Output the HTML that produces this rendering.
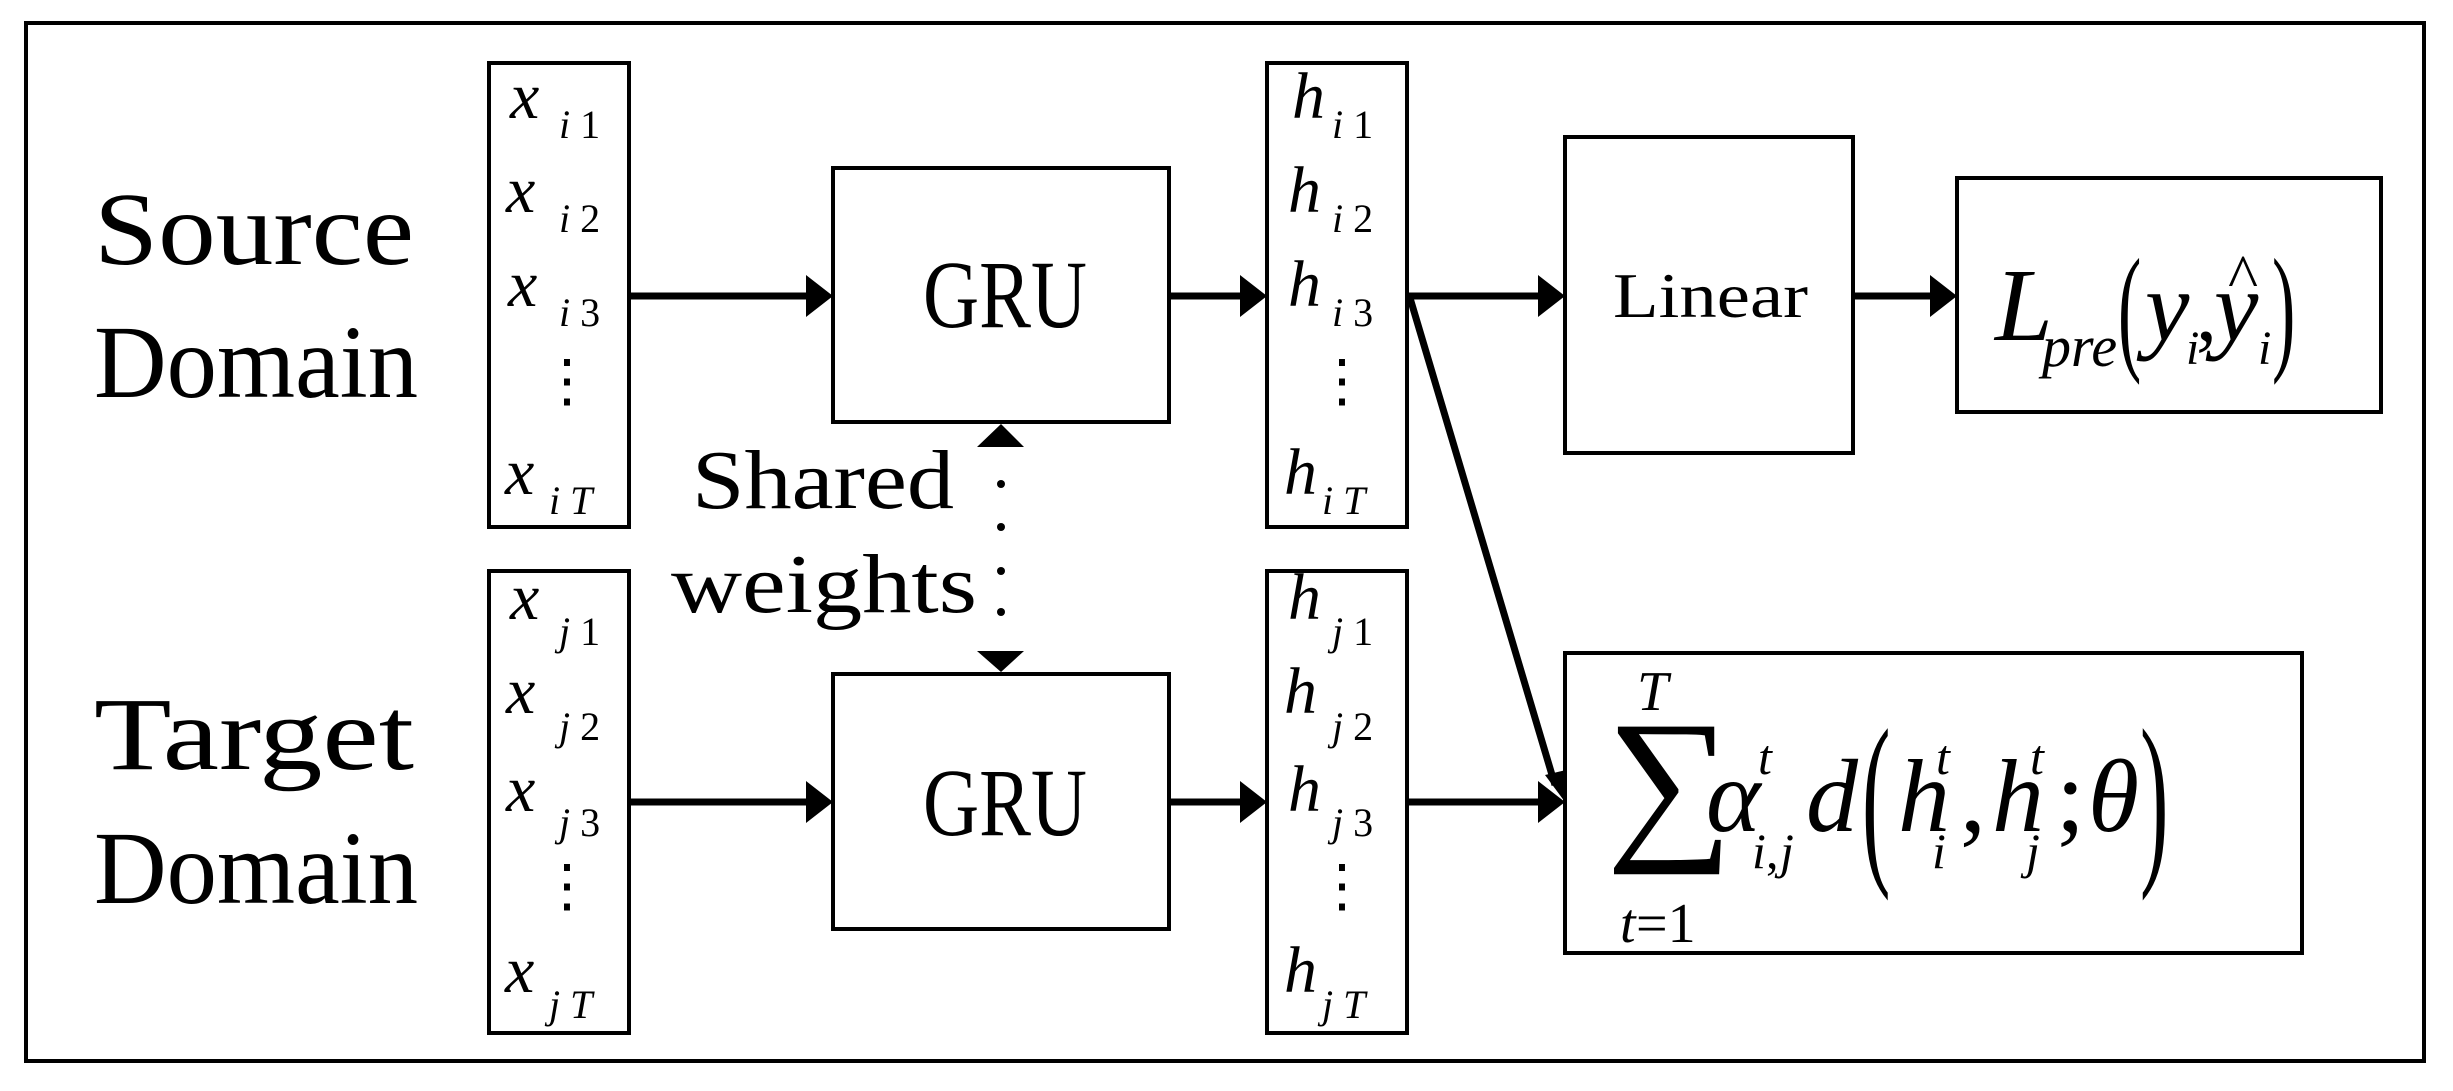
<!DOCTYPE html>
<html><head><meta charset="utf-8"><style>
html,body{margin:0;padding:0;background:#fff;}
svg{display:block;}
.m{font-family:"Liberation Serif",serif;}
.s{font-family:"Liberation Serif",serif;}
.i{font-family:"Liberation Serif",serif;font-style:italic;}
</style></head><body>
<svg width="2453" height="1091" viewBox="0 0 2453 1091" xmlns="http://www.w3.org/2000/svg">
<rect x="0" y="0" width="2453" height="1091" fill="#fff"/>
<g fill="none" stroke="#000" stroke-width="4">
<rect x="26" y="23" width="2398" height="1038"/>
<rect x="489" y="63" width="140" height="464"/>
<rect x="489" y="571" width="140" height="462"/>
<rect x="833" y="168" width="336" height="254"/>
<rect x="833" y="674" width="336" height="255"/>
<rect x="1267" y="63" width="140" height="464"/>
<rect x="1267" y="571" width="140" height="462"/>
<rect x="1565" y="137" width="288" height="316"/>
<rect x="1957" y="178" width="424" height="234"/>
<rect x="1565" y="653" width="737" height="300"/>
</g>
<g stroke="#000" stroke-width="7">
<line x1="629" y1="296" x2="810" y2="296"/>
<line x1="629" y1="802" x2="810" y2="802"/>
<line x1="1169" y1="296" x2="1245" y2="296"/>
<line x1="1169" y1="802" x2="1245" y2="802"/>
<line x1="1407" y1="296" x2="1543" y2="296"/>
<line x1="1853" y1="296" x2="1935" y2="296"/>
<line x1="1407" y1="802" x2="1543" y2="802"/>
<line x1="1410" y1="298" x2="1555" y2="785"/>
</g>
<g fill="#000">
<polygon points="806,275 833,296 806,317"/>
<polygon points="806,781 833,802 806,823"/>
<polygon points="1240,275 1267,296 1240,317"/>
<polygon points="1240,781 1267,802 1240,823"/>
<polygon points="1538,275 1565,296 1538,317"/>
<polygon points="1930,275 1957,296 1930,317"/>
<polygon points="1538,781 1565,802 1538,823"/>
<polygon points="1545,775 1565,802 1566,770"/>
<polygon points="977,447 1024,447 1001,424"/>
<polygon points="977,651 1024,651 1001,672"/>
<circle cx="1001" cy="484" r="4"/>
<circle cx="1001" cy="527" r="4"/>
<circle cx="1001" cy="571" r="4"/>
<circle cx="1001" cy="612" r="4"/>
</g>
<g class="m" font-size="104" fill="#000">
<text x="94" y="264" textLength="320" lengthAdjust="spacingAndGlyphs">Source</text>
<text x="94" y="397" textLength="324" lengthAdjust="spacingAndGlyphs">Domain</text>
<text x="94" y="769" textLength="320" lengthAdjust="spacingAndGlyphs">Target</text>
<text x="94" y="903" textLength="324" lengthAdjust="spacingAndGlyphs">Domain</text>
</g>
<g class="m" font-size="84" fill="#000">
<text x="692" y="508" textLength="262" lengthAdjust="spacingAndGlyphs">Shared</text>
<text x="671" y="612" textLength="306" lengthAdjust="spacingAndGlyphs">weights</text>
</g>
<g class="m" font-size="64" fill="#000">
<text x="1613" y="317" textLength="195" lengthAdjust="spacingAndGlyphs">Linear</text>
</g>
<g class="s" font-size="96" fill="#000">
<text x="923" y="327" textLength="164" lengthAdjust="spacingAndGlyphs">GRU</text>
<text x="923" y="835" textLength="164" lengthAdjust="spacingAndGlyphs">GRU</text>
</g>
<g font-size="66" fill="#000">
<text class="i" x="510" y="118">x</text><text class="s" x="559" y="138" font-size="40"><tspan class="i">i</tspan> 1</text>
<text class="i" x="506" y="212">x</text><text class="s" x="559" y="232" font-size="40"><tspan class="i">i</tspan> 2</text>
<text class="i" x="508" y="306">x</text><text class="s" x="559" y="326" font-size="40"><tspan class="i">i</tspan> 3</text>
<text class="s" x="538" y="400" font-size="58">⋮</text>
<text class="i" x="505" y="494">x</text><text class="i" x="549" y="514" font-size="40">i T</text>
<text class="i" x="510" y="619">x</text><text class="s" x="559" y="645" font-size="40"><tspan class="i">j</tspan> 1</text>
<text class="i" x="506" y="713">x</text><text class="s" x="559" y="740" font-size="40"><tspan class="i">j</tspan> 2</text>
<text class="i" x="506" y="811">x</text><text class="s" x="559" y="836" font-size="40"><tspan class="i">j</tspan> 3</text>
<text class="s" x="538" y="905" font-size="58">⋮</text>
<text class="i" x="505" y="992">x</text><text class="i" x="549" y="1018" font-size="40">j T</text>

<text class="i" x="1292" y="118">h</text><text class="s" x="1332" y="138" font-size="40"><tspan class="i">i</tspan> 1</text>
<text class="i" x="1288" y="212">h</text><text class="s" x="1332" y="232" font-size="40"><tspan class="i">i</tspan> 2</text>
<text class="i" x="1288" y="306">h</text><text class="s" x="1332" y="326" font-size="40"><tspan class="i">i</tspan> 3</text>
<text class="s" x="1313" y="400" font-size="58">⋮</text>
<text class="i" x="1284" y="494">h</text><text class="i" x="1322" y="514" font-size="40">i T</text>
<text class="i" x="1288" y="619">h</text><text class="s" x="1332" y="645" font-size="40"><tspan class="i">j</tspan> 1</text>
<text class="i" x="1284" y="713">h</text><text class="s" x="1332" y="740" font-size="40"><tspan class="i">j</tspan> 2</text>
<text class="i" x="1288" y="811">h</text><text class="s" x="1332" y="836" font-size="40"><tspan class="i">j</tspan> 3</text>
<text class="s" x="1313" y="905" font-size="58">⋮</text>
<text class="i" x="1284" y="992">h</text><text class="i" x="1322" y="1018" font-size="40">j T</text>
</g>
<!-- L_pre formula -->
<g fill="#000">
<text class="i" x="1995" y="340" font-size="104">L</text>
<text class="i" x="2042" y="366" font-size="58">pre</text>
<text class="s" x="2118" y="355" font-size="140" transform="translate(2118,355) scale(0.5,1) translate(-2118,-355)">(</text>
<text class="i" x="2145" y="340" font-size="100">y</text>
<text class="i" x="2186" y="364" font-size="48">i</text>
<text class="s" x="2196" y="340" font-size="84">,</text>
<text class="i" x="2214" y="340" font-size="100">y</text>
<text class="s" x="2228" y="298" font-size="64">^</text>
<text class="i" x="2258" y="364" font-size="48">i</text>
<text class="s" x="2272" y="355" font-size="140" transform="translate(2272,355) scale(0.5,1) translate(-2272,-355)">)</text>
</g>
<!-- sum formula -->
<g fill="#000">
<text class="s" x="1606" y="838" font-size="170" transform="translate(1606,838) scale(1.05,1) translate(-1606,-838)">∑</text>
<text class="i" x="1637" y="710" font-size="56">T</text>
<text class="i" x="1620" y="942" font-size="56">t</text>
<text class="s" x="1636" y="942" font-size="56">=1</text>
<text class="i" x="1706" y="831" font-size="104">α</text>
<text class="i" x="1758" y="774" font-size="50">t</text>
<text class="i" x="1752" y="868" font-size="50">i</text>
<text class="s" x="1766" y="868" font-size="50">,</text>
<text class="i" x="1780" y="868" font-size="50">j</text>
<text class="i" x="1806" y="831" font-size="104">d</text>
<text class="s" x="1862" y="860" font-size="190" transform="translate(1862,860) scale(0.45,1) translate(-1862,-860)">(</text>
<text class="i" x="1898" y="831" font-size="104">h</text>
<text class="i" x="1936" y="774" font-size="50">t</text>
<text class="i" x="1932" y="868" font-size="50">i</text>
<text class="s" x="1960" y="831" font-size="104">,</text>
<text class="i" x="1992" y="831" font-size="104">h</text>
<text class="i" x="2030" y="774" font-size="50">t</text>
<text class="i" x="2026" y="868" font-size="50">j</text>
<text class="s" x="2056" y="831" font-size="104">;</text>
<text class="i" x="2088" y="831" font-size="104">θ</text>
<text class="s" x="2140" y="860" font-size="190" transform="translate(2140,860) scale(0.45,1) translate(-2140,-860)">)</text>
</g>
</svg>
</body></html>
